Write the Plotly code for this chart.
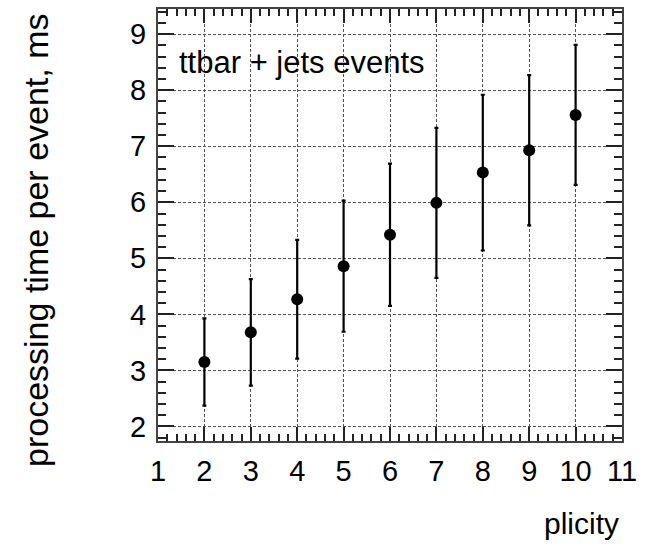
import plotly.graph_objects as go

# Processing time vs. jet multiplicity
multiplicity = [2, 3, 4, 5, 6, 7, 8, 9, 10]
time_ms = [3.15, 3.68, 4.27, 4.86, 5.42, 5.99, 6.53, 6.93, 7.56]
time_err = [0.78, 0.95, 1.06, 1.17, 1.27, 1.34, 1.39, 1.34, 1.25]

x_range = [1, 11]
y_range = [1.74, 9.45]
x_ticks = list(range(1, 12))
y_ticks = list(range(2, 10))

W, H = 656, 548
L, R, T, B = 158, 34, 7, 107

FONT = "Liberation Sans, Arial, Helvetica, sans-serif"


def px_x(px):
    return (px - L) / (W - L - R)


def px_y(py):
    return 1 - (py - T) / (H - T - B)


fig = go.Figure()
fig.add_trace(go.Scatter(
    x=multiplicity, y=time_ms,
    mode="markers",
    marker=dict(color="black", size=12, symbol="circle"),
    error_y=dict(type="data", array=time_err, visible=True,
                 color="black", thickness=2.2, width=2),
    showlegend=False,
))

axis_common = dict(
    showline=True, linecolor="#444", linewidth=2,
    mirror="allticks", ticks="inside", tickcolor="#222", tickwidth=1.5,
    showgrid=True, gridcolor="#555", gridwidth=1, griddash="3px,2px",
    zeroline=False,
    tickfont=dict(family=FONT, size=29, color="black"),
)

fig.update_xaxes(
    range=x_range, tickmode="array", tickvals=x_ticks,
    ticktext=[str(v) for v in x_ticks], ticklen=14,
    minor=dict(dtick=0.2, tick0=1, ticklen=7, ticks="inside",
               tickcolor="#222", tickwidth=1.5, showgrid=False),
    ticklabelstandoff=3,
    **axis_common,
)
fig.update_yaxes(
    range=y_range, tickmode="array", tickvals=y_ticks,
    ticktext=[str(v) for v in y_ticks], ticklen=16,
    minor=dict(dtick=0.2, tick0=2, ticklen=8, ticks="inside",
               tickcolor="#222", tickwidth=1.5, showgrid=False),
    ticklabelstandoff=4,
    **axis_common,
)

fig.add_annotation(
    x=1.42, y=8.5, xref="x", yref="y",
    text="ttbar + jets events", showarrow=False,
    xanchor="left", yanchor="middle",
    font=dict(family=FONT, size=31, color="black"),
)

# axis titles, aligned to the far end of each axis
fig.add_annotation(
    x=px_x(36), y=px_y(9), xref="paper", yref="paper",
    text="processing time per event, ms", showarrow=False,
    textangle=-90, xanchor="center", yanchor="top",
    font=dict(family=FONT, size=34, color="black"),
)
fig.add_annotation(
    x=px_x(621), y=px_y(524), xref="paper", yref="paper",
    text="plicity", showarrow=False,
    xanchor="right", yanchor="middle",
    font=dict(family=FONT, size=30, color="black"),
)

fig.update_layout(
    width=W, height=H,
    margin=dict(l=L, r=R, t=T, b=B),
    paper_bgcolor="white", plot_bgcolor="white",
)

fig.write_html("out.html")
